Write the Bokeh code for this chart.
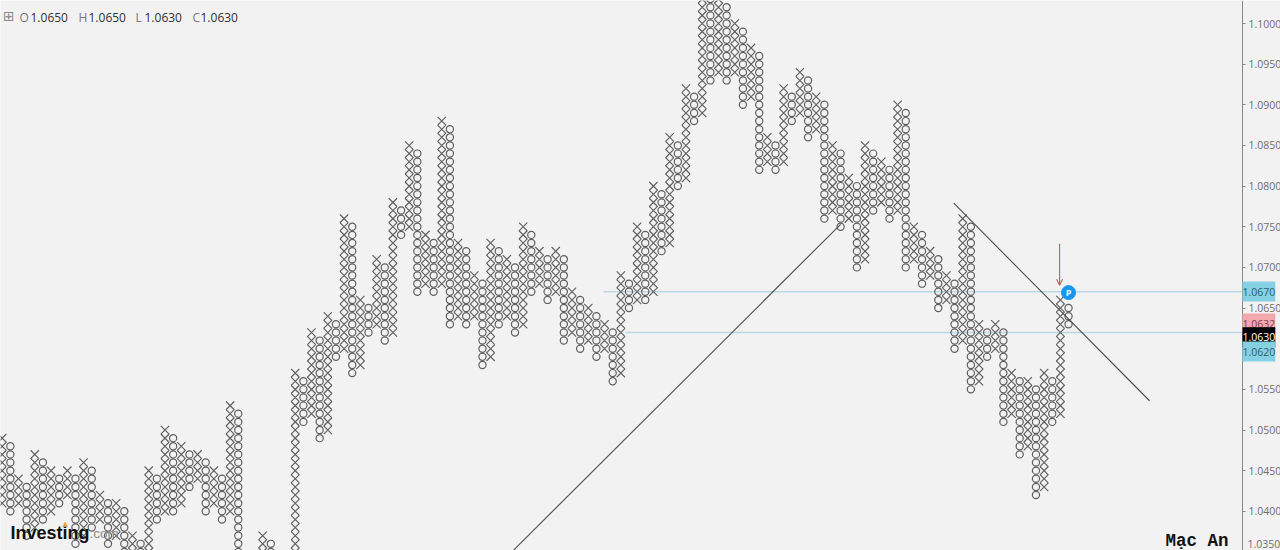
from bokeh.plotting import figure
from bokeh.embed import file_html
from bokeh.resources import INLINE
from bokeh.models import Range1d, FixedTicker, Label, Arrow, OpenHead
from bokeh.core.properties import value

# Point & figure columns, in thousandths of a price (box size 0.0010).
# Even positions are X columns, odd positions are O columns.
col_low = [1041,1040,1041,1037,1038,1039,1040,1041,1042,1036,1037,1038,1039,1036,1037,1034,1035,1034,1035,1039,
           1040,1040,1041,1043,1044,1040,1041,1039,1040,1030,1031,1030,1031,1032,1033,1030,1031,1051,1052,1049,
           1050,1059,1060,1057,1058,1062,1063,1061,1062,1074,1075,1067,1068,1067,1068,1063,1064,1063,1064,1058,
           1059,1063,1064,1062,1063,1067,1068,1066,1067,1061,1062,1060,1061,1059,1060,1056,1057,1065,1066,1066,
           1067,1072,1073,1080,1081,1088,1089,1093,1094,1093,1094,1090,1091,1082,1083,1082,1083,1088,1089,1086,
           1087,1076,1077,1075,1076,1070,1071,1077,1078,1076,1077,1070,1071,1068,1069,1065,1066,1060,1061,1055,
           1056,1059,1060,1051,1052,1047,1048,1042,1043,1051,1052,1063]
col_high = [1049,1048,1044,1043,1047,1046,1045,1044,1045,1044,1046,1045,1042,1041,1041,1040,1037,1036,1045,1044,
            1050,1049,1048,1047,1047,1046,1045,1044,1053,1052,1033,1032,1037,1036,1034,1033,1057,1056,1062,1061,
            1064,1063,1076,1075,1066,1065,1071,1070,1078,1077,1085,1084,1074,1073,1088,1087,1073,1072,1069,1068,
            1073,1072,1071,1070,1075,1074,1072,1071,1072,1071,1067,1066,1065,1064,1063,1062,1069,1068,1075,1074,
            1080,1079,1086,1085,1092,1091,1104,1103,1103,1102,1100,1099,1097,1096,1086,1085,1092,1091,1094,1093,
            1091,1090,1085,1084,1081,1080,1085,1084,1083,1082,1090,1089,1075,1074,1072,1071,1069,1068,1076,1075,
            1063,1062,1063,1062,1057,1056,1056,1055,1057,1056,1066,1065]

axis_ticks = [1.04,1.045,1.05,1.055,1.06,1.065,1.07,1.075,1.08,1.085,1.09,1.095,1.10]
trend_a_col = [62.8, 103.0]
trend_a_price = [1.0352, 1.0753]
trend_b_col = [116.9, 140.95]
trend_b_price = [1.0779, 1.0536]
level_prices = [1.0670, 1.0620]
level_start_cols = [73.9, 76.6]
ohlc_labels = ["O", "H", "L", "C"]
ohlc_values = ["1.0650", "1.0650", "1.0630", "1.0630"]
badge_texts = ["1.0670", "1.0632", "1.0630", "1.0620"]

BG = "#f2f2f2"
INK = "#5f5f5f"
AXIS_COL = 152.37

p = figure(width=1280, height=550, output_backend="svg", toolbar_location=None,
           y_axis_location="right", min_border_left=0, min_border_top=0, min_border_bottom=0,
           min_border_right=0, x_axis_location=None,
           x_range=Range1d(-0.209, 157.04), y_range=Range1d(1.03518, 1.10283))
p.styles = {"position": "absolute", "left": "0px", "top": "0px"}
p.background_fill_color = BG
p.border_fill_color = BG
p.outline_line_color = None
p.xgrid.visible = False
p.ygrid.visible = False

ax = p.yaxis[0]
ax.fixed_location = AXIS_COL
ax.ticker = FixedTicker(ticks=axis_ticks)
ax.major_label_overrides = {1.06: "", **{t: f"{t:.4f}" for t in axis_ticks if t != 1.06}}
ax.axis_line_color = "#8a8a8a"
ax.major_tick_line_color = "#8a8a8a"
ax.major_tick_out = 3
ax.major_tick_in = 0
ax.minor_tick_line_color = None
ax.major_label_standoff = 3
ax.major_label_text_font = "Open Sans"
ax.major_label_text_font_size = "10.5px"
ax.major_label_text_color = "#6e6e6e"

for price, start in zip(level_prices, level_start_cols):
    p.segment(x0=[start], y0=[price], x1=[AXIS_COL], y1=[price], line_color="#bcd8e6", line_width=1.4)

xs_x, xs_y, os_x, os_y = [], [], [], []
for i, (lo, hi) in enumerate(zip(col_low, col_high)):
    for v in range(lo, hi + 1):
        if i % 2 == 0:
            xs_x.append(i); xs_y.append(v / 1000)
        else:
            os_x.append(i); os_y.append(v / 1000)

p.scatter(xs_x, xs_y, marker="x", size=11.7, line_color=INK, line_width=1.15)
p.scatter(os_x, os_y, marker="circle", size=7.2, fill_color=None, line_color=INK, line_width=1.2)

p.line(trend_a_col, trend_a_price, line_color="#4d4d4d", line_width=1.1)
p.line(trend_b_col, trend_b_price, line_color="#4d4d4d", line_width=1.1)

p.add_layout(Arrow(end=OpenHead(size=6, line_color="#c65a5a", line_width=1.1),
                   x_start=129.9, y_start=1.0729, x_end=129.9, y_end=1.0678,
                   line_color="#c65a5a", line_width=1.1))

p.scatter([131], [1.0669], marker="circle", size=14, fill_color="#1a96ee", line_color="#1a96ee")
p.text([131], [1.0669], text=["P"], text_color="white", text_font=value("Open Sans"),
       text_font_style="bold", text_font_size="9px", text_align="center", text_baseline="middle")

def screen_label(x, top_y, text, size, color, font="Open Sans", style="normal", **kw):
    p.add_layout(Label(x=x, y=550 - top_y, x_units="screen", y_units="screen", text=text,
                       text_font=font, text_font_size=size, text_color=color, text_font_style=style,
                       text_baseline="middle", text_align="left", level="overlay", **kw))

for txt, top_y, bg, fg in zip(badge_texts, [291, 323, 336.7, 351],
                              ["#85d0e2", "#f3a8b0", "#000000", "#85d0e2"],
                              ["#2f5f6b", "#8a3a42", "#ffffff", "#2f5f6b"]):
    screen_label(1242, top_y, txt, "10.5px", fg, background_fill_color=bg, padding=(0, 6))

screen_label(1247, 543, "1.0350", "10.5px", "#6e6e6e")

for lx, vx, a, b in zip([19, 78, 135, 192], [30, 88, 144, 200], ohlc_labels, ohlc_values):
    screen_label(lx, 17, a, "12px", "#777777")
    screen_label(vx, 17, b, "12px", "#333333")
screen_label(2.5, 15.5, "\u229e", "14px", "#8a8a8a", font="DejaVu Sans")

screen_label(10, 532, "Investing", "18px", "#111111", font="Liberation Sans", style="bold")
screen_label(89, 533, ".com", "13.5px", "#8a8a8a", font="Liberation Sans")
screen_label(62, 523, "\u25b2", "7px", "#e8a33a", font="DejaVu Sans")
screen_label(1165, 540, "M\u1ea1c An", "17.5px", "#111111", font="Liberation Mono", style="bold")

open("out.html", "w").write(file_html(p, INLINE))
